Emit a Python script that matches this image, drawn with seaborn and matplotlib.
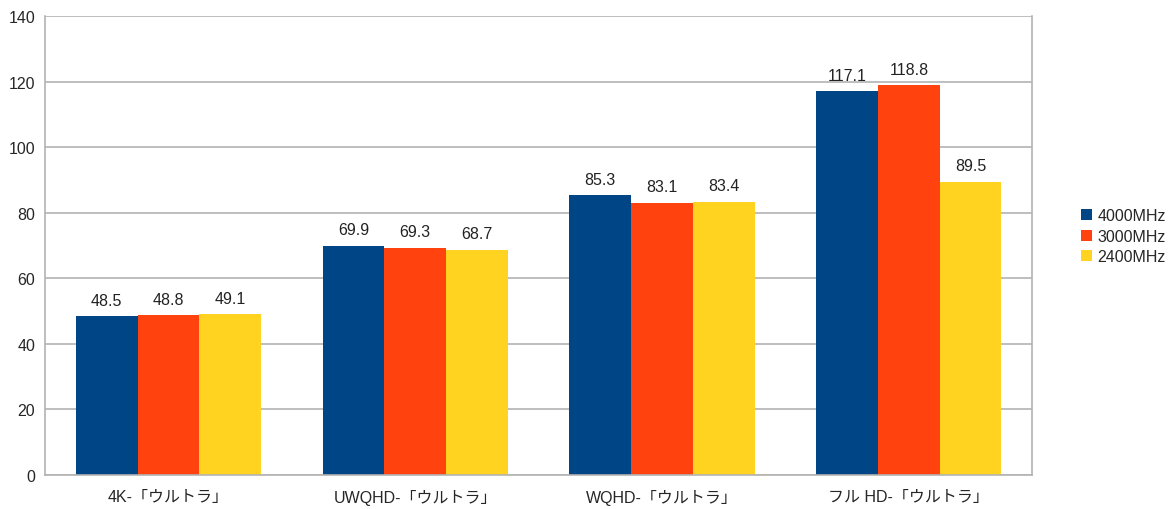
import pandas as pd
import matplotlib.pyplot as plt
import seaborn as sns

# chart data
categories = ['4K-「ウルトラ」', 'UWQHD-「ウルトラ」', 'WQHD-「ウルトラ」', 'フル HD-「ウルトラ」']
series = ['4000MHz', '3000MHz', '2400MHz']
fps_4000 = [48.5, 69.9, 85.3, 117.1]
fps_3000 = [48.8, 69.3, 83.1, 118.8]
fps_2400 = [49.1, 68.7, 83.4, 89.5]
colors = ['#004586', '#ff420e', '#ffd320']

df = pd.DataFrame({
    'category': categories * 3,
    'memory': [s for s in series for _ in categories],
    'fps': fps_4000 + fps_3000 + fps_2400,
})

sns.set_style('white')
plt.rcParams['font.family'] = ['Liberation Sans', 'Noto Sans CJK JP', 'DejaVu Sans']

fig = plt.figure(figsize=(11.69, 5.10), dpi=100)
ax = fig.add_axes([0.0385, 0.0667, 0.8445, 0.9])

sns.barplot(data=df, x='category', y='fps', hue='memory', hue_order=series,
            palette=colors, width=0.75, saturation=1, linewidth=0,
            ax=ax, legend=True)

for c in ax.containers:
    ax.bar_label(c, fmt='%.1f', padding=6, fontsize=11.5, color='#222222')

ax.set_ylim(0, 140)
ax.set_yticks(range(0, 141, 20))
ax.set_xlim(-0.5, 3.5)
ax.set_xticks([x - 0.5 for x in range(5)], minor=True)
ax.tick_params(axis='x', which='major', length=0, labelsize=11.5, pad=10)
ax.tick_params(axis='x', which='minor', length=6, color='#b3b3b3', width=1.2)
ax.tick_params(axis='y', length=5, color='#b3b3b3', width=1.2, labelsize=11.5, pad=2)
ax.yaxis.grid(True, color='#b3b3b3', linewidth=1.2)
ax.set_axisbelow(True)
ax.set_xlabel('')
ax.set_ylabel('')
for s in ['left', 'bottom', 'right']:
    ax.spines[s].set_color('#b3b3b3')
    ax.spines[s].set_linewidth(1.2)
ax.spines['top'].set_visible(False)

ax.legend(loc='center left', bbox_to_anchor=(1.035, 0.52), frameon=False,
          fontsize=11.5, handlelength=0.7, handleheight=0.7, handletextpad=0.3,
          labelspacing=0.35, title=None)

plt.savefig('out.png', dpi=100)
